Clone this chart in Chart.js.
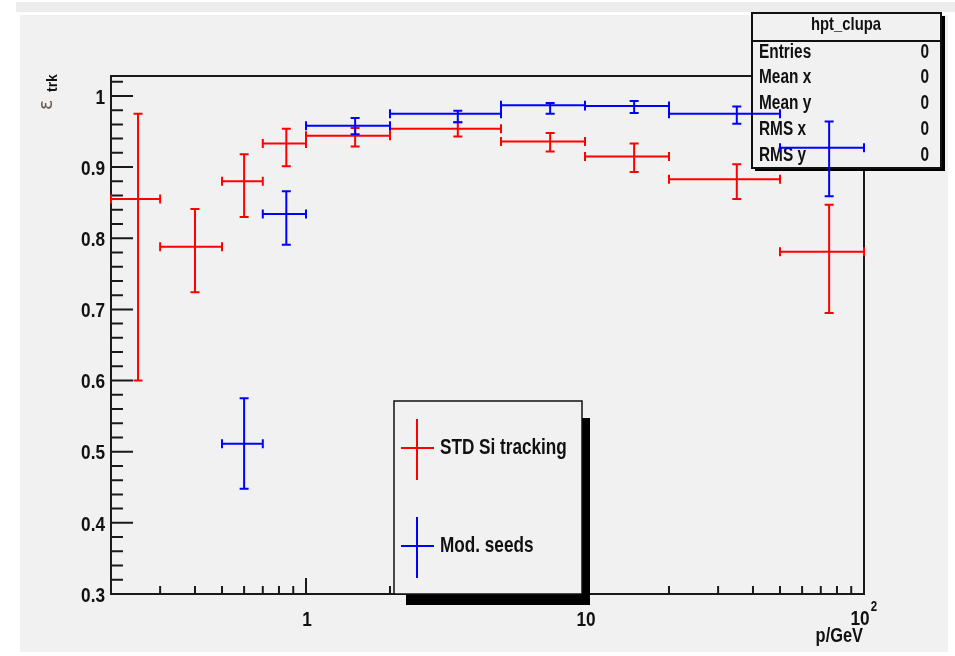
<!DOCTYPE html>
<html>
<head>
<meta charset="utf-8">
<script src="https://cdn.jsdelivr.net/npm/chart.js@4.4.1/dist/chart.umd.min.js"></script>
<style>
body { margin: 0; background: #fff; }
canvas { display: block; }
</style>
</head>
<body>
<canvas id="effChart" width="955" height="656"></canvas>
<script>
// momentum bins, GeV
var binLow  = [0.2, 0.3, 0.5, 0.7, 1, 2, 5, 10, 20, 50];
var binHigh = [0.3, 0.5, 0.7, 1, 2, 5, 10, 20, 50, 100];
var binMid  = [0.25, 0.4, 0.6, 0.85, 1.5, 3.5, 7.5, 15, 35, 75];

// STD Si tracking: efficiency and error band limits
var stdEff  = [0.855, 0.788, 0.880, 0.933, 0.944, 0.954, 0.936, 0.915, 0.883, 0.781];
var stdHigh = [0.975, 0.841, 0.918, 0.954, 0.955, 0.963, 0.948, 0.933, 0.904, 0.847];
var stdLow  = [0.600, 0.724, 0.830, 0.901, 0.929, 0.943, 0.922, 0.893, 0.855, 0.695];

// modified seeds (no entries in the two lowest bins)
var seedEff  = [null, null, 0.511, 0.834, 0.958, 0.975, 0.987, 0.986, 0.975, 0.927];
var seedHigh = [null, null, 0.575, 0.866, 0.969, 0.979, 0.990, 0.993, 0.985, 0.964];
var seedLow  = [null, null, 0.448, 0.791, 0.946, 0.963, 0.975, 0.976, 0.961, 0.859];

var yTicks = [0.3, 0.4, 0.5, 0.6, 0.7, 0.8, 0.9, 1];
var yTickLabels = ['0.3', '0.4', '0.5', '0.6', '0.7', '0.8', '0.9', '1'];
var xTicks = [1, 10, 100];
var xTickLabels = ['1', '10', '10'];
var xTickExp = ['', '', '2'];

var statNames = ['Entries', 'Mean x', 'Mean y', 'RMS x', 'RMS y'];
var statValues = ['0', '0', '0', '0', '0'];

function points(eff) {
  return eff.map(function (v, i) { return { x: binMid[i], y: v }; });
}

// ROOT-ish narrow bold text
function narrowText(ctx, str, x, y, size, align, squeeze) {
  var sx = squeeze || 0.82;
  ctx.save();
  ctx.font = 'bold ' + size + 'px "Liberation Sans", Arial, sans-serif';
  ctx.textBaseline = 'middle';
  ctx.textAlign = 'left';
  var w = ctx.measureText(str).width * sx;
  var left = align === 'right' ? x - w : align === 'center' ? x - w / 2 : x;
  ctx.translate(left, y);
  ctx.scale(sx, 1);
  ctx.fillText(str, 0, 0);
  ctx.restore();
}

function drawCrosses(ctx, chart, ds) {
  var xs = chart.scales.x, ys = chart.scales.y;
  var cap = 4.5;
  ctx.save();
  ctx.strokeStyle = ds.borderColor;
  ctx.lineWidth = 2;
  ds.data.forEach(function (pt, i) {
    if (pt.y === null) return;
    var x0 = xs.getPixelForValue(ds.xLow[i]);
    var x1 = xs.getPixelForValue(ds.xHigh[i]);
    var xc = xs.getPixelForValue(pt.x);
    var yc = ys.getPixelForValue(pt.y);
    var yt = ys.getPixelForValue(ds.yHigh[i]);
    var yb = ys.getPixelForValue(ds.yLow[i]);
    ctx.beginPath();
    ctx.moveTo(x0, yc); ctx.lineTo(x1, yc);
    ctx.moveTo(xc, yt); ctx.lineTo(xc, yb);
    ctx.moveTo(x0, yc - cap); ctx.lineTo(x0, yc + cap);
    ctx.moveTo(x1, yc - cap); ctx.lineTo(x1, yc + cap);
    ctx.moveTo(xc - cap, yt); ctx.lineTo(xc + cap, yt);
    ctx.moveTo(xc - cap, yb); ctx.lineTo(xc + cap, yb);
    ctx.stroke();
  });
  ctx.restore();
}

var rootFrame = {
  id: 'rootFrame',
  beforeDraw: function (chart) {
    var ctx = chart.ctx;
    ctx.save();
    ctx.fillStyle = '#ffffff';
    ctx.fillRect(0, 0, chart.width, chart.height);
    ctx.fillStyle = '#ececec';
    ctx.fillRect(16, 2, 939, 10);
    ctx.fillStyle = '#f1f1f1';
    ctx.fillRect(20, 15, 928, 637);
    ctx.restore();
  },
  beforeDatasetsDraw: function (chart) {
    var ctx = chart.ctx, a = chart.chartArea;
    var xs = chart.scales.x, ys = chart.scales.y;
    ctx.save();
    ctx.strokeStyle = '#1a1a1a';
    ctx.lineWidth = 2;
    ctx.strokeRect(a.left, a.top, a.right - a.left, a.bottom - a.top);

    // y ticks: major every 0.1, minor every 0.02
    ctx.beginPath();
    for (var k = 15; k <= 51; k++) {
      var py = ys.getPixelForValue(k * 0.02);
      ctx.moveTo(a.left, py);
      ctx.lineTo(a.left + (k % 5 === 0 ? 22 : 12), py);
    }
    // x ticks on log scale
    for (var d = 0.1; d < 100; d *= 10) {
      for (var m = 1; m <= 9; m++) {
        var v = d * m;
        if (v <= 0.2 || v >= 100) continue;
        var px = xs.getPixelForValue(v);
        ctx.moveTo(px, a.bottom);
        ctx.lineTo(px, a.bottom - (m === 1 ? 16 : 8));
      }
    }
    ctx.stroke();

    ctx.fillStyle = '#111';
    yTicks.forEach(function (v, i) {
      narrowText(ctx, yTickLabels[i], 105, ys.getPixelForValue(v) + 2, 21, 'right');
    });
    xTicks.forEach(function (v, i) {
      var px = xs.getPixelForValue(v);
      if (xTickExp[i]) {
        narrowText(ctx, xTickLabels[i], px - 4, 619, 21, 'center');
        narrowText(ctx, xTickExp[i], px + 10, 607, 14, 'center');
      } else {
        narrowText(ctx, xTickLabels[i], px + 1, 620, 21, 'center');
      }
    });
    narrowText(ctx, 'p/GeV', 863, 636, 20, 'right');

    // y title, rotated
    ctx.save();
    ctx.translate(48, 110);
    ctx.rotate(-Math.PI / 2);
    ctx.fillStyle = '#6b5a4a';
    ctx.font = '19px "DejaVu Sans", sans-serif';
    ctx.textBaseline = 'middle';
    ctx.fillText('\u03b5', 0, -1);
    ctx.fillStyle = '#111';
    ctx.font = 'bold 14px "Liberation Sans", sans-serif';
    ctx.fillText('trk', 18, 5);
    ctx.restore();

    // statistics box
    ctx.fillStyle = '#000';
    ctx.fillRect(755, 16, 190, 155);
    ctx.fillStyle = '#f1f1f1';
    ctx.fillRect(752, 13, 189, 155);
    ctx.strokeStyle = '#111';
    ctx.lineWidth = 2;
    ctx.strokeRect(752, 13, 189, 155);
    ctx.beginPath();
    ctx.moveTo(752, 41); ctx.lineTo(941, 41);
    ctx.stroke();
    ctx.fillStyle = '#111';
    narrowText(ctx, 'hpt_clupa', 846, 25, 19, 'center', 0.78);
    statNames.forEach(function (s, i) {
      var ty = 52 + i * 25.8;
      narrowText(ctx, s, 759, ty, 20, 'left', 0.77);
      narrowText(ctx, statValues[i], 929, ty, 20, 'right', 0.77);
    });
    ctx.restore();
  },
  afterDatasetsDraw: function (chart) {
    var ctx = chart.ctx;
    chart.data.datasets.forEach(function (ds) { drawCrosses(ctx, chart, ds); });

    // legend box with shadow
    ctx.save();
    ctx.fillStyle = '#000';
    ctx.fillRect(406, 418, 184, 187);
    ctx.fillStyle = '#f1f1f1';
    ctx.fillRect(394, 401, 188, 193);
    ctx.strokeStyle = '#111';
    ctx.lineWidth = 1.5;
    ctx.strokeRect(394, 401, 188, 193);
    var rows = [448, 546];
    chart.data.datasets.forEach(function (ds, i) {
      var cy = rows[i];
      ctx.strokeStyle = ds.borderColor;
      ctx.lineWidth = 2;
      ctx.beginPath();
      ctx.moveTo(401, cy); ctx.lineTo(434, cy);
      ctx.moveTo(417, cy - 29); ctx.lineTo(417, cy + 32);
      ctx.stroke();
      ctx.fillStyle = '#111';
      narrowText(ctx, ds.label, 440, cy, 22, 'left', 0.78);
    });
    ctx.restore();
  }
};

var ctx = document.getElementById('effChart').getContext('2d');
var chart = new Chart(ctx, {
  type: 'scatter',
  data: {
    datasets: [{
      label: 'STD Si tracking',
      borderColor: '#ff0000',
      backgroundColor: '#ff0000',
      pointRadius: 0,
      data: points(stdEff),
      xLow: binLow, xHigh: binHigh,
      yLow: stdLow, yHigh: stdHigh
    }, {
      label: 'Mod. seeds',
      borderColor: '#0000ff',
      backgroundColor: '#0000ff',
      pointRadius: 0,
      data: points(seedEff),
      xLow: binLow, xHigh: binHigh,
      yLow: seedLow, yHigh: seedHigh
    }]
  },
  options: {
    responsive: false,
    animation: false,
    layout: { padding: { left: 111, right: 91, top: 76, bottom: 62 } },
    plugins: { legend: { display: false }, tooltip: { enabled: false } },
    scales: {
      x: { type: 'logarithmic', min: 0.2, max: 100, display: false },
      y: { type: 'linear', min: 0.3, max: 1.028, display: false }
    }
  },
  plugins: [rootFrame]
});
</script>
</body>
</html>
